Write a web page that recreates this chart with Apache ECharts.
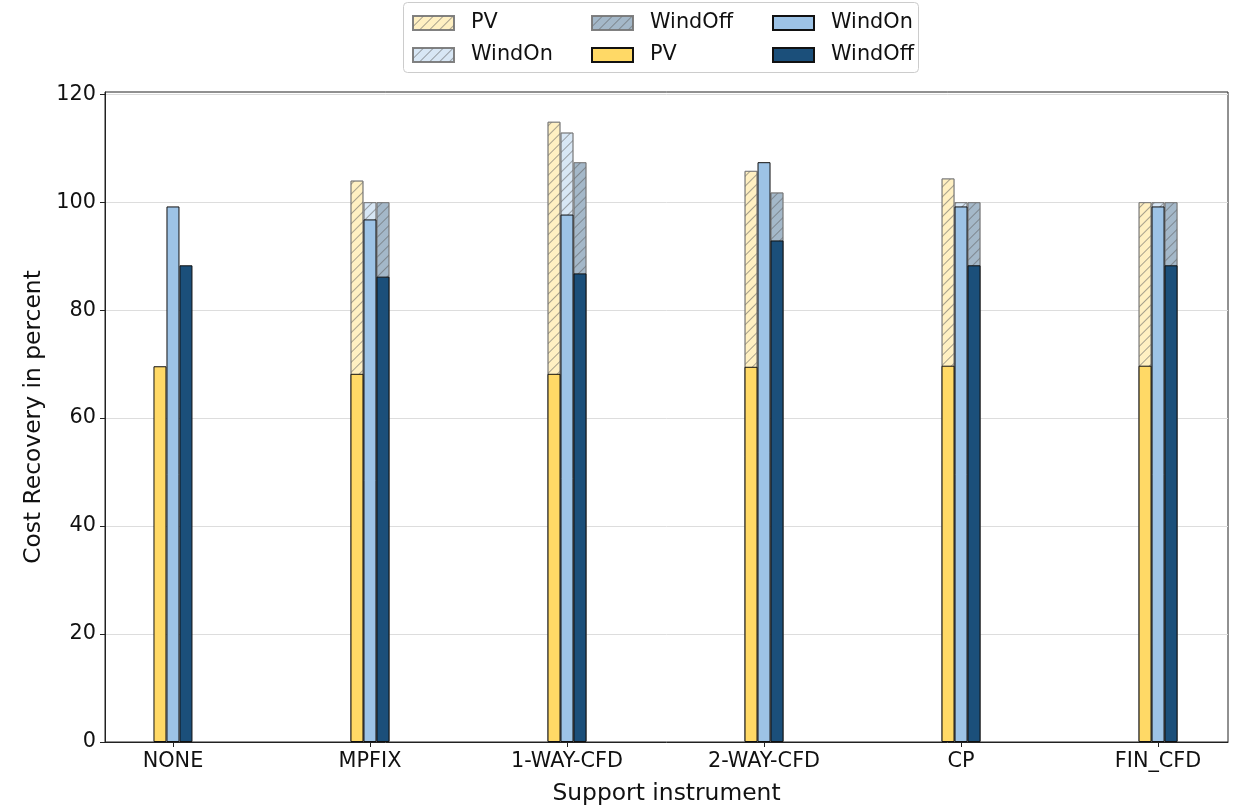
<!DOCTYPE html>
<html>
<head>
<meta charset="utf-8">
<title>Cost Recovery by Support Instrument</title>
<script src="https://cdn.jsdelivr.net/npm/echarts@6/dist/echarts.min.js"></script>
<style>
  html, body { margin: 0; padding: 0; background: #ffffff; }
  #chart { width: 1238px; height: 805px; }
</style>
</head>
<body>
<div id="chart"></div>
<script>
// Support instruments (x categories)
const categories = ['NONE', 'MPFIX', '1-WAY-CFD', '2-WAY-CFD', 'CP', 'FIN_CFD'];

// Cost recovery without support (solid bars), percent
const pvBase      = [69.6, 68.2, 68.2, 69.5, 69.7, 69.7];
const windOnBase  = [99.2, 96.8, 97.7, 107.4, 99.2, 99.2];
const windOffBase = [88.3, 86.2, 86.8, 92.9, 88.3, 88.3];

// Cost recovery including support payments (hatched bars), percent
const pvSupport      = [null, 104.0, 114.9, 105.8, 104.4, 100.0];
const windOnSupport  = [null, 100.0, 112.9, null, 100.0, 100.0];
const windOffSupport = [null, 100.0, 107.4, 101.8, 100.0, 100.0];

// y-axis tick values
const yTicks = [0, 20, 40, 60, 80, 100, 120];

const FONT = 'DejaVu Sans';
const TICK_SIZE = 20.8;
const TITLE_SIZE = 23.4;
const colors = { PV: '#ffd966', WindOn: '#9dc3e6', WindOff: '#1b4f7a' };
const lightColors = { PV: '#fff0c2', WindOn: '#d8e7f5', WindOff: '#a4b8c9' };

const hatch = {
  symbol: 'rect',
  symbolSize: 1,
  color: 'rgba(95,95,95,0.55)',
  dashArrayX: [1, 0],
  dashArrayY: [1, 6],
  rotation: -Math.PI / 4
};

// [category position, value] pairs; categories without a value get no bar
const toPoints = arr => categories
  .map((c, i) => [i, arr[i]])
  .filter(p => p[1] !== null);

function solidSeries(key, values) {
  return {
    name: key + '|base',
    type: 'bar',
    xAxisIndex: 0,
    barWidth: 13,
    barGap: '0%',
    z: 4,
    data: toPoints(values),
    itemStyle: { color: colors[key], borderColor: '#111', borderWidth: 1 }
  };
}
function hatchSeries(key, values) {
  return {
    name: key + '|support',
    type: 'bar',
    xAxisIndex: 1,
    barWidth: 13,
    barGap: '0%',
    z: 2,
    data: toPoints(values),
    itemStyle: {
      color: lightColors[key],
      borderColor: 'rgba(120,120,120,0.75)',
      borderWidth: 1,
      decal: hatch
    }
  };
}

// one legend per column, two entries each
function legendColumn(left, names) {
  return {
    orient: 'vertical',
    left: left,
    top: 12.5,
    padding: 0,
    itemWidth: 41,
    itemHeight: 14,
    itemGap: 11,
    icon: 'rect',
    selectedMode: false,
    formatter: name => name.split('|')[0],
    textStyle: {
      fontFamily: FONT, fontSize: TICK_SIZE, lineHeight: 20, color: '#111',
      padding: [0, 0, 0, 12]
    },
    data: names
  };
}

const xAxisCommon = {
  type: 'value',
  min: -0.345,
  max: 5.355,
  splitLine: { show: false }
};

const option = {
  animation: false,
  backgroundColor: '#ffffff',
  graphic: [{
    type: 'rect',
    left: 403, top: 2,
    shape: { width: 515, height: 70, r: 4 },
    style: { fill: 'rgba(255,255,255,0.8)', stroke: '#cccccc', lineWidth: 1 },
    z: -1
  }],
  legend: [
    legendColumn(412, ['PV|support', 'WindOn|support']),
    legendColumn(591, ['WindOff|support', 'PV|base']),
    legendColumn(772, ['WindOn|base', 'WindOff|base'])
  ],
  grid: {
    left: 105, right: 10, top: 92, bottom: 63,
    outerBoundsMode: 'none',
    containLabel: false,
    show: true, borderColor: '#222', borderWidth: 1, backgroundColor: 'transparent'
  },
  xAxis: [
    Object.assign({}, xAxisCommon, {
      name: 'Support instrument',
      nameLocation: 'middle',
      nameGap: 40,
      nameTextStyle: { fontFamily: FONT, fontSize: TITLE_SIZE, color: '#111' },
      axisLine: { show: true, onZero: false, lineStyle: { color: '#222', width: 1 } },
      axisTick: { show: true, length: 5, customValues: [0, 1, 2, 3, 4, 5], lineStyle: { color: '#222' } },
      axisLabel: {
        customValues: [0, 1, 2, 3, 4, 5],
        formatter: v => categories[Math.round(v)],
        fontFamily: FONT, fontSize: TICK_SIZE, color: '#111', margin: 9
      }
    }),
    Object.assign({}, xAxisCommon, { show: false })
  ],
  yAxis: {
    type: 'value',
    min: 0,
    max: 120.4,
    name: 'Cost Recovery in percent',
    nameLocation: 'middle',
    nameGap: 60,
    nameTextStyle: { fontFamily: FONT, fontSize: TITLE_SIZE, color: '#111' },
    axisLine: { show: true, onZero: false, lineStyle: { color: '#222', width: 1 } },
    axisTick: { show: true, length: 5, customValues: yTicks, lineStyle: { color: '#222' } },
    axisLabel: {
      customValues: yTicks,
      fontFamily: FONT, fontSize: TICK_SIZE, color: '#111', margin: 9
    },
    splitLine: { show: true, lineStyle: { color: '#dddddd', width: 1 } }
  },
  series: [
    hatchSeries('PV', pvSupport),
    hatchSeries('WindOn', windOnSupport),
    hatchSeries('WindOff', windOffSupport),
    solidSeries('PV', pvBase),
    solidSeries('WindOn', windOnBase),
    solidSeries('WindOff', windOffBase)
  ]
};

const chart = echarts.init(document.getElementById('chart'), null, { renderer: 'canvas' });
chart.setOption(option);
</script>
</body>
</html>
